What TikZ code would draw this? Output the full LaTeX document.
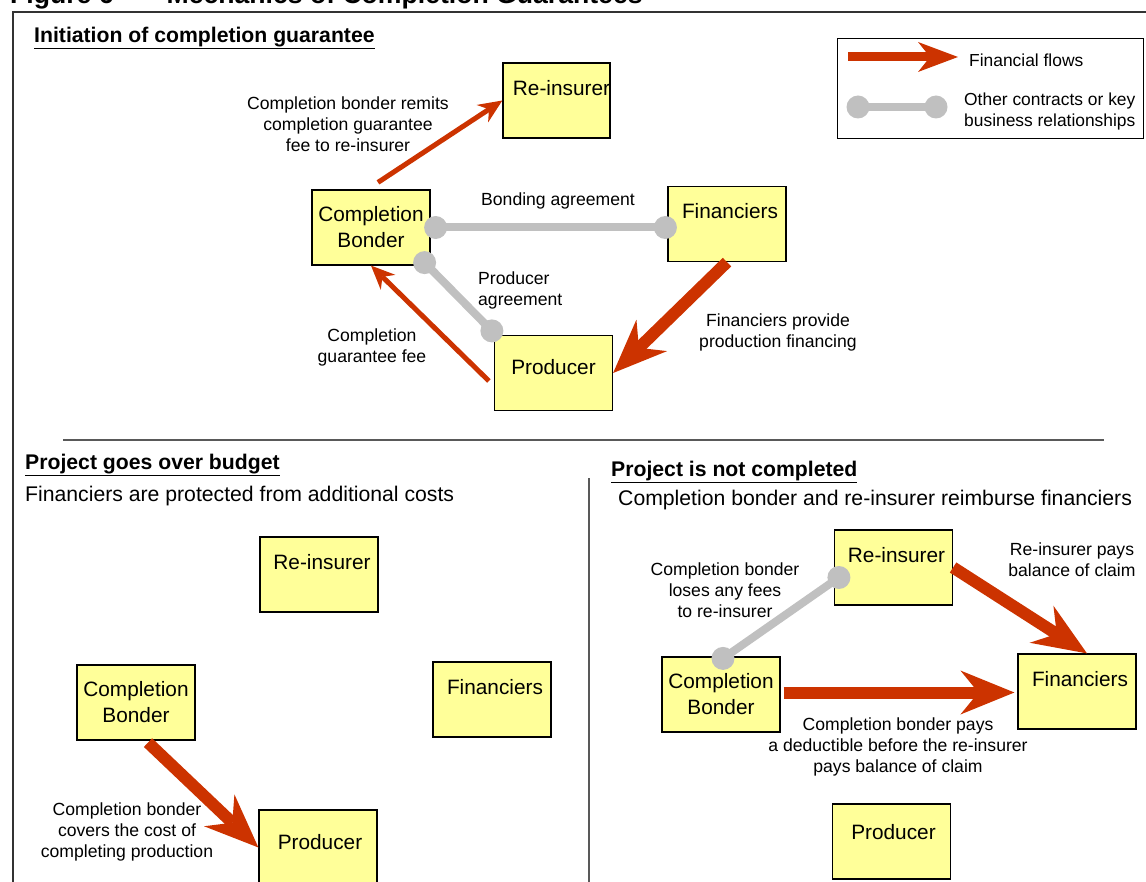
\documentclass[tikz,border=0pt]{standalone}
\usepackage{fontspec}
\setmainfont{Liberation Sans}
\usetikzlibrary{arrows.meta, positioning, calc}
\definecolor{flowred}{HTML}{CC3300}
\definecolor{relgray}{HTML}{C0C0C0}
\definecolor{boxyellow}{HTML}{FFFF99}

\begin{document}
\begin{tikzpicture}[x=1pt, y=-1pt]
\tikzstyle{every node} = [inner sep=0pt]
\tikzstyle{box} = [draw, line width=1.2pt, fill=boxyellow, minimum width=118pt, minimum height=75pt, align=center, font=\fontsize{20.8}{26}\selectfont]
\tikzstyle{lbl} = [align=center, font=\fontsize{17.6}{21}\selectfont]
\tikzstyle{head} = [anchor=base west, font=\fontsize{21.2}{25}\selectfont\bfseries]
\tikzstyle{sub} = [anchor=base west, font=\fontsize{21.2}{25}\selectfont]
\tikzstyle{thinflow} = [draw=flowred, line width=5pt, -{Stealth[length=24pt, width=21pt, inset=8pt, line width=0pt]}]
\tikzstyle{bigflow} = [draw=flowred, line width=12pt, -{Stealth[length=54pt, width=44pt, inset=18pt, line width=0pt]}]
\tikzstyle{keyflow} = [draw=flowred, line width=9pt, -{Stealth[length=40pt, width=30pt, inset=12pt, line width=0pt]}]
\tikzstyle{rel} = [draw=relgray, line width=8pt]
\tikzstyle{dot} = [fill=relgray]

\useasboundingbox (0,0) rectangle (1146,882);

% frame and title
\node[anchor=base west, font=\fontsize{26.6}{30}\selectfont\bfseries] (title) at (10,4) {Figure 6\hspace{53pt}Mechanics of Completion Guarantees};
\draw[line width=1.2pt, black!80] (13,882) -- (13,12) -- (1146,12);
\draw[line width=1.2pt, black!65] (63,440) -- (1104,440); % upper / lower split
\draw[line width=1.2pt, black!65] (589,478) -- (589,882); % left / right split

% legend
\node[draw, line width=1.2pt, minimum width=306pt, minimum height=100pt, anchor=north west] (legend) at (837,38) {};
\coordinate (key1) at (848,57);
\coordinate (key2) at (958,57);
\draw[keyflow] (key1) -- (key2);
\node[anchor=west, font=\fontsize{17.4}{21}\selectfont] (keyflowtxt) at (969,60) {Financial flows};
\coordinate (key3) at (858,107);
\coordinate (key4) at (936,107);
\draw[rel] (key3) -- (key4);
\fill[dot] (key3) circle (11.5) (key4) circle (11.5);
\node[anchor=west, align=left, font=\fontsize{17.4}{21}\selectfont] (keyreltxt) at (964,111.5) {Other contracts or key\\business relationships};

%%% Initiation of completion guarantee
\node[head] (h1) at (34,42.5) {\underline{Initiation of completion guarantee}};
\node[box, minimum width=107pt] (ri) at (556.5,100.5) {\hspace{10pt}Re-insurer\\\mbox{}};
\node[box] (cb) at (371,227.5) {Completion\\Bonder};
\node[box] (fin) at (727,224) {\hspace{6pt}Financiers\\\mbox{}};
\node[box] (prod) at (553.5,373) {Producer\\[-14pt]\mbox{}};

\coordinate (ba1) at ($(cb.east)+(5,0)$);
\coordinate (ba2) at ($(fin.west |- ba1)+(-2,0)$);
\draw[rel] (ba1) -- (ba2);
\fill[dot] (ba1) circle (11.5) (ba2) circle (11.5);
\coordinate (pa1) at ($(cb.south east)+(-6,-3)$);
\coordinate (pa2) at ($(prod.north west)+(-2,-4)$);
\draw[rel] (pa1) -- (pa2);
\fill[dot] (pa1) circle (11.5) (pa2) circle (11.5);

\draw[thinflow] ($(cb.north)+(7,-7)$) -- (ri.west);
\draw[bigflow] (fin.south) -- (prod.east);
\draw[thinflow] ($(prod.west)+(-5,8)$) -- (cb.south);

\node[lbl] (remit) at (348,124.5) {Completion bonder remits\\completion guarantee\\fee to re-insurer};
\node[lbl] (bonding) at (558,201) {Bonding agreement};
\node[lbl, anchor=west, align=left] (prodagr) at (478,290) {Producer\\agreement};
\node[lbl] (provide) at (778,332.5) {Financiers provide\\production financing};
\node[lbl] (fee) at (372,347.5) {Completion\\guarantee fee};

%%% Project goes over budget
\node[head] (h2) at (25,469) {\underline{Project goes over budget}};
\node[sub] (s2) at (25,501) {Financiers are protected from additional costs};
\node[box] (ril) at (319,574.5) {\hspace{6pt}Re-insurer\\\mbox{}};
\node[box] (cbl) at (136,702.5) {Completion\\Bonder};
\node[box] (finl) at (492,699.5) {\hspace{6pt}Financiers\\\mbox{}};
\node[box] (prl) at (318,847.5) {\hspace{4pt}Producer\\[-14pt]\mbox{}};
\draw[bigflow] ($(cbl.south)+(12,2)$) -- (prl.west);
\node[lbl] (covers) at (127,832) {Completion bonder\\covers the cost of\\completing production};

%%% Project is not completed
\node[head] (h3) at (611,476) {\underline{Project is not completed}};
\node[sub] (s3) at (618,505) {Completion bonder and re-insurer reimburse financiers};
\node[box] (rir) at (893.5,567.5) {\hspace{6pt}Re-insurer\\\mbox{}};
\node[box] (cbr) at (721,694.5) {Completion\\Bonder};
\node[box] (finr) at (1077,691.5) {\hspace{6pt}Financiers\\\mbox{}};
\node[box] (prr) at (891.5,841.5) {\hspace{4pt}Producer\\[-6pt]\mbox{}};

\coordinate (lose1) at ($(cbr.north)+(2,2)$);
\coordinate (lose2) at ($(rir.west)+(5,10)$);
\draw[rel] (lose1) -- (lose2);
\fill[dot] (lose1) circle (11.5) (lose2) circle (11.5);
\draw[bigflow] (rir.east) -- ($(finr.north)+(10,0)$);
\draw[bigflow] ($(cbr.east)+(3,-2)$) -- ($(finr.west)+(-3,1)$);

\node[lbl] (loses) at (725,590.5) {Completion bonder\\loses any fees\\to re-insurer};
\node[lbl] (balance) at (1072,560) {Re-insurer pays\\balance of claim};
\node[lbl] (deduct) at (898,747) {Completion bonder pays\\a deductible before the re-insurer\\pays balance of claim};
\end{tikzpicture}
\end{document}
